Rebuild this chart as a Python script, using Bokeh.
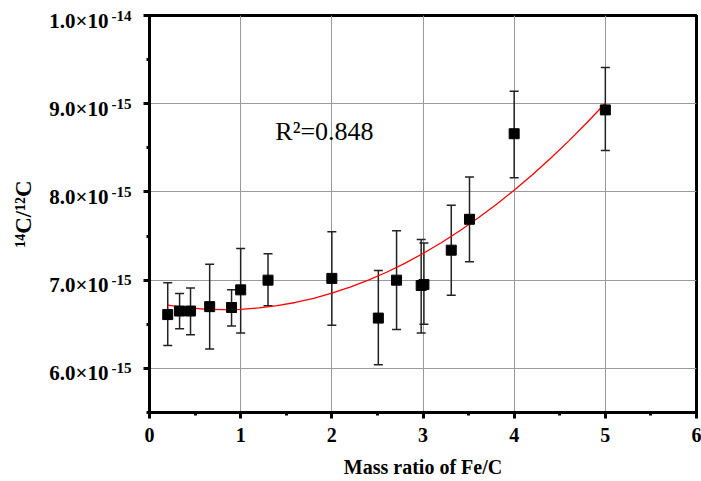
from bokeh.plotting import figure
from bokeh.models import (ColumnDataSource, Whisker, TeeHead, FixedTicker, Label, Range1d,
                          LinearAxis, CustomJSTickFormatter)
from bokeh.embed import file_html
from bokeh.resources import INLINE

# ---- data ----
mass_ratio = [0.2, 0.33, 0.45, 0.66, 0.9, 1.0, 1.3, 2.0, 2.51, 2.71, 2.98, 3.01, 3.31, 3.51, 4.0, 5.0]
ratio_val = [6.61e-15, 6.65e-15, 6.65e-15, 6.70e-15, 6.69e-15, 6.89e-15, 7.00e-15, 7.02e-15,
             6.57e-15, 7.00e-15, 6.94e-15, 6.95e-15, 7.34e-15, 7.69e-15, 8.66e-15, 8.93e-15]
ratio_hi = [6.97e-15, 6.85e-15, 6.91e-15, 7.18e-15, 6.89e-15, 7.36e-15, 7.30e-15, 7.55e-15,
            7.11e-15, 7.56e-15, 7.46e-15, 7.42e-15, 7.85e-15, 8.17e-15, 9.14e-15, 9.41e-15]
ratio_lo = [6.26e-15, 6.45e-15, 6.38e-15, 6.22e-15, 6.48e-15, 6.40e-15, 6.71e-15, 6.49e-15,
            6.04e-15, 6.44e-15, 6.40e-15, 6.50e-15, 6.83e-15, 7.21e-15, 8.16e-15, 8.47e-15]

fit_x = [0.2, 0.4, 0.6, 0.8, 1.0, 1.2, 1.4, 1.6, 1.8, 2.0, 2.2, 2.4, 2.6, 2.8, 3.0,
         3.2, 3.4, 3.6, 3.8, 4.0, 4.2, 4.4, 4.6, 4.8, 5.0]
fit_y = [6.717e-15, 6.689e-15, 6.672e-15, 6.666e-15, 6.670e-15, 6.685e-15, 6.711e-15,
         6.747e-15, 6.794e-15, 6.852e-15, 6.921e-15, 7.000e-15, 7.090e-15, 7.191e-15,
         7.302e-15, 7.424e-15, 7.557e-15, 7.701e-15, 7.855e-15, 8.020e-15, 8.196e-15,
         8.382e-15, 8.579e-15, 8.787e-15, 9.006e-15]

x_ticks = [0, 1, 2, 3, 4, 5, 6]
x_minor = [0.5, 1.5, 2.5, 3.5, 4.5, 5.5]
y_ticks = [6e-15, 7e-15, 8e-15, 9e-15, 1e-14]
y_minor = [5.5e-15, 6.5e-15, 7.5e-15, 8.5e-15, 9.5e-15]
y_tick_mantissa = ["6.0×10", "7.0×10", "8.0×10", "9.0×10", "1.0×10"]
y_tick_exponent = ["-15", "-15", "-15", "-15", "-14"]

r2_text = "R²=0.848"
x_title = "Mass ratio of Fe/C"
y_title = "¹⁴C/¹²C"

FONT = "Liberation Serif"
Y0, Y1 = 5.5e-15, 1.0e-14
PX = (Y1 - Y0) / 397.0   # data units per pixel of the frame

p = figure(width=701, height=481, output_backend="svg", toolbar_location=None,
           x_range=Range1d(0, 6), y_range=Range1d(Y0, Y1),
           min_border_left=149, min_border_right=5, min_border_top=15, min_border_bottom=69)
p.background_fill_color = "white"
p.border_fill_color = "white"
p.outline_line_color = "black"
p.outline_line_width = 3

# grids
p.xgrid.ticker = FixedTicker(ticks=[1, 2, 3, 4, 5])
p.ygrid.ticker = FixedTicker(ticks=[6e-15, 7e-15, 8e-15, 9e-15])
for g in (p.xgrid, p.ygrid):
    g.grid_line_color = "#9a9a9a"
    g.grid_line_width = 1


def style_axis(ax):
    ax.axis_line_width = 3
    ax.axis_line_color = "black"
    ax.major_tick_line_width = 3
    ax.major_tick_line_color = "black"
    ax.minor_tick_line_width = 3
    ax.minor_tick_line_color = "black"
    ax.major_tick_out = 6
    ax.major_tick_in = 0
    ax.minor_tick_out = 3
    ax.minor_tick_in = 0
    ax.major_label_text_font = FONT
    ax.major_label_text_font_style = "bold"
    ax.major_label_text_color = "black"
    ax.axis_label_text_font = FONT
    ax.axis_label_text_font_style = "bold"
    ax.axis_label_text_color = "black"


def lookup_formatter(labels):
    return CustomJSTickFormatter(args=dict(vals=y_ticks, labs=labels), code="""
let best = 0;
for (let i = 0; i < vals.length; i++) {
  if (Math.abs(vals[i] - tick) < Math.abs(vals[best] - tick)) best = i;
}
return labs[best];
""")


# x axis
p.xaxis.ticker = FixedTicker(ticks=x_ticks, minor_ticks=x_minor)
style_axis(p.xaxis[0])
p.xaxis.major_label_text_font_size = "20px"
p.xaxis.axis_label = x_title
p.xaxis.axis_label_text_font_size = "20px"
p.xaxis.major_label_standoff = 9
p.xaxis.axis_label_standoff = 11

# main y axis: line, ticks and the (raised) exponents
p.yaxis.ticker = FixedTicker(ticks=y_ticks, minor_ticks=y_minor)
style_axis(p.yaxis[0])
p.yaxis.formatter = lookup_formatter(y_tick_exponent)
p.yaxis.major_label_text_font_size = "15px"
p.yaxis.major_label_standoff = 12

# outer y axis: mantissas, set slightly lower than the exponents
p.extra_y_ranges["mant"] = Range1d(Y0 + 5 * PX, Y1 + 5 * PX)
mant_ax = LinearAxis(y_range_name="mant", ticker=FixedTicker(ticks=y_ticks, minor_ticks=[]),
                     formatter=lookup_formatter(y_tick_mantissa))
style_axis(mant_ax)
mant_ax.axis_line_color = None
mant_ax.major_tick_line_color = None
mant_ax.minor_tick_line_color = None
mant_ax.major_tick_out = 0
mant_ax.minor_tick_out = 0
mant_ax.major_label_text_font_size = "21px"
mant_ax.major_label_standoff = 0
mant_ax.axis_label = y_title
mant_ax.axis_label_text_font_size = "23px"
mant_ax.axis_label_standoff = 10
p.add_layout(mant_ax, "left")

src = ColumnDataSource(dict(x=mass_ratio, y=ratio_val, hi=ratio_hi, lo=ratio_lo))

wh = Whisker(source=src, base="x", upper="hi", lower="lo", line_color="#222222", line_width=1.5,
             upper_head=TeeHead(size=9, line_color="#222222", line_width=1.5),
             lower_head=TeeHead(size=9, line_color="#222222", line_width=1.5))
p.add_layout(wh)

p.line(fit_x, fit_y, line_color="red", line_width=1.3)
p.scatter("x", "y", source=src, marker="square", size=10, fill_color="black", line_color="black")

p.add_layout(Label(x=1.38, y=8.69e-15, text=r2_text, text_font=FONT, text_font_size="26px",
                   text_color="black", text_baseline="alphabetic"))

open("out.html", "w").write(file_html(p, INLINE))
